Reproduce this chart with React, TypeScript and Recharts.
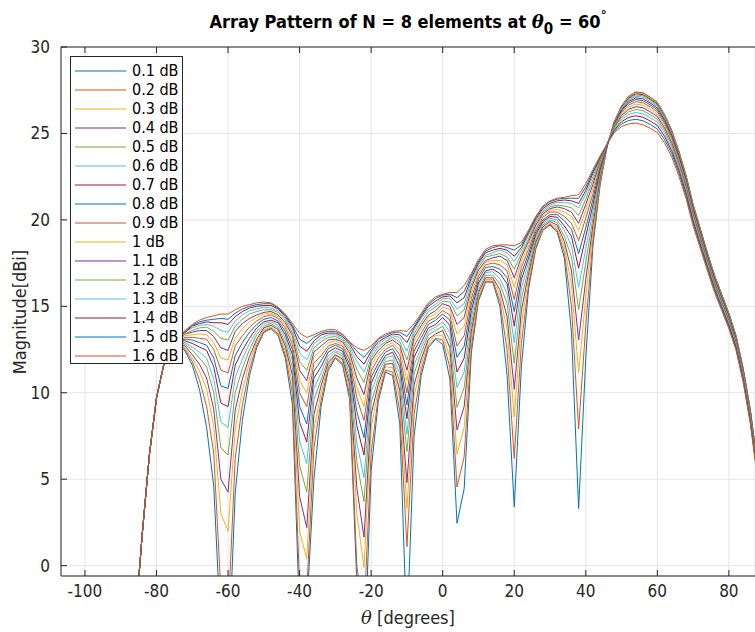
import React from "react";
import { CartesianGrid, Label, Legend, Line, LineChart, ReferenceLine, XAxis, YAxis } from "recharts";

// scan angle grid (degrees)
const theta = [
    -88, -86, -84, -82, -80, -78, -76, -74, -72, -70, -68, -66, -64, -62, -60, -58, -56, -54, -52, -50,
    -48, -46, -44, -42, -40, -38, -36, -34, -32, -30, -28, -26, -24, -22, -20, -18, -16, -14, -12, -10,
    -8, -6, -4, -2, 0, 2, 4, 6, 8, 10, 12, 14, 16, 18, 20, 22, 24, 26, 28, 30,
    32, 34, 36, 38, 40, 42, 44, 46, 48, 50, 52, 54, 56, 58, 60, 62, 64, 66, 68, 70,
    72, 74, 76, 78, 80, 82, 84, 86, 88,
];

// magnitude [dBi], one array per error level
const db01 = [
    -9, -3.5, 1.8, 6.4, 9.7, 11.6, 12.6,
    12.9, 12.4, 11.6, 10.2, 8.0, 4.6, -4,
    -6, 4.2, 8.4, 11.0, 12.6, 13.5, 13.7,
    13.3, 12.0, 9.3, -3, -2.5, 5.0, 9.2,
    11.3, 12.0, 11.6, 9.6, -1.0, -6, 5.5,
    9.5, 11.2, 11.0, 8.2, -4, 7.5, 11.0,
    12.6, 13.1, 12.8, 10.8, 2.45, 4.45, 12.3,
    15.3, 16.4, 16.4, 15.0, 11.0, 3.4, 11.5,
    16.0, 18.3, 19.4, 19.7, 19.3, 17.8, 13.5,
    3.3, 12.0, 18.5, 22.0, 24.3, 25.7, 26.6,
    27.15, 27.4, 27.35, 27.1, 26.8, 26.1, 25.2,
    24.0, 22.6, 20.9, 19.5, 18.1, 16.8, 15.7,
    14.6, 13.3, 11.4, 9.0, 5.8,
];
const db02 = [
    -9, -3.5, 1.8, 6.4, 9.7, 11.6, 12.6,
    12.9, 12.5, 11.8, 10.75, 9.2, 6.5, -1.5,
    -3, 6.2, 9.3, 11.35, 12.75, 13.55, 13.75,
    13.4, 12.2, 9.95, -1.2, -1.5, 6.8, 9.55,
    11.45, 12.05, 11.7, 9.85, 0.0, -3, 6.5,
    9.8, 11.3, 11.2, 8.95, 1.1, 8.75, 11.3,
    12.75, 13.15, 13.05, 11.45, 4.55, 6.3, 12.65,
    15.45, 16.45, 16.45, 15.3, 12.45, 6.2, 12.85,
    16.25, 18.4, 19.45, 19.75, 19.4, 18.1, 15.0,
    7.9, 13.9, 18.85, 22.15, 24.3, 25.69, 26.59,
    27.13, 27.38, 27.33, 27.08, 26.78, 26.08, 25.18,
    23.98, 22.58, 20.89, 19.49, 18.09, 16.79, 15.69,
    14.59, 13.29, 11.39, 8.99, 5.79,
];
const db03 = [
    -9, -3.5, 1.8, 6.4, 9.7, 11.6, 12.6,
    12.9, 12.6, 12.0, 11.25, 10.2, 8.05, 3.0,
    2.0, 7.9, 10.15, 11.75, 12.95, 13.65, 13.8,
    13.5, 12.45, 10.55, 2.0, 0.4, 7.9, 10.0,
    11.6, 12.15, 11.85, 10.2, 3.0, -0.1, 8.0,
    10.15, 11.5, 11.45, 9.65, 3.3, 9.8, 11.65,
    12.95, 13.3, 13.3, 12.1, 6.45, 8.0, 13.15,
    15.6, 16.55, 16.55, 15.65, 13.65, 8.6, 14.0,
    16.6, 18.55, 19.5, 19.8, 19.55, 18.45, 16.25,
    11.15, 15.55, 19.3, 22.3, 24.3, 25.68, 26.56,
    27.1, 27.34, 27.29, 27.04, 26.75, 26.05, 25.15,
    23.96, 22.56, 20.86, 19.46, 18.07, 16.77, 15.67,
    14.57, 13.27, 11.38, 8.98, 5.78,
];
const db04 = [
    -9, -3.5, 1.8, 6.4, 9.7, 11.6, 12.6,
    12.9, 12.7, 12.2, 11.65, 10.85, 9.05, 5.0,
    4.25, 9.0, 10.8, 12.1, 13.1, 13.75, 13.9,
    13.65, 12.7, 11.0, 4.0, 2.2, 8.75, 10.4,
    11.75, 12.2, 11.95, 10.5, 4.5, 1.65, 8.75,
    10.5, 11.65, 11.7, 10.15, 4.8, 10.45, 11.95,
    13.1, 13.4, 13.6, 12.6, 7.85, 9.2, 13.55,
    15.8, 16.65, 16.65, 15.95, 14.4, 10.2, 14.75,
    16.9, 18.7, 19.6, 19.9, 19.7, 18.75, 17.05,
    13.05, 16.55, 19.7, 22.45, 24.3, 25.66, 26.53,
    27.06, 27.29, 27.24, 26.99, 26.7, 26.0, 25.11,
    23.91, 22.52, 20.83, 19.43, 18.04, 16.74, 15.64,
    14.55, 13.25, 11.35, 8.95, 5.75,
];
const db05 = [
    -9, -3.5, 1.8, 6.4, 9.7, 11.6, 12.6,
    13.0, 12.8, 12.45, 12.0, 11.5, 10.0, 6.8,
    6.4, 10.0, 11.4, 12.5, 13.35, 13.85, 14.0,
    13.75, 12.9, 11.45, 5.8, 4.25, 9.6, 10.75,
    11.95, 12.35, 12.1, 10.8, 6.0, 3.7, 9.45,
    10.8, 11.8, 11.9, 10.65, 6.6, 11.1, 12.3,
    13.35, 13.6, 13.85, 13.05, 9.15, 10.3, 13.95,
    15.95, 16.8, 16.8, 16.3, 15.15, 11.7, 15.45,
    17.2, 18.85, 19.7, 20.0, 19.85, 19.05, 17.85,
    14.8, 17.55, 20.1, 22.6, 24.3, 25.64, 26.49,
    27.0, 27.23, 27.18, 26.93, 26.64, 25.95, 25.05,
    23.86, 22.47, 20.78, 19.39, 18.0, 16.71, 15.61,
    14.52, 13.22, 11.33, 8.93, 5.73,
];
const db06 = [
    -9, -3.5, 1.8, 6.4, 9.7, 11.6, 12.6,
    13.0, 12.9, 12.65, 12.35, 12.0, 10.8, 8.3,
    8.0, 10.9, 11.95, 12.85, 13.55, 14.0, 14.1,
    13.9, 13.15, 11.85, 7.2, 5.9, 10.25, 11.15,
    12.15, 12.45, 12.25, 11.1, 7.1, 5.1, 10.05,
    11.15, 12.0, 12.15, 11.1, 7.6, 11.6, 12.6,
    13.55, 13.8, 14.1, 13.5, 10.3, 11.2, 14.35,
    16.2, 16.95, 17.0, 16.6, 15.75, 12.9, 16.05,
    17.55, 19.0, 19.8, 20.1, 20.0, 19.4, 18.5,
    16.1, 18.35, 20.5, 22.75, 24.3, 25.61, 26.44,
    26.93, 27.15, 27.1, 26.85, 26.56, 25.87, 24.99,
    23.8, 22.42, 20.73, 19.34, 17.96, 16.66, 15.57,
    14.48, 13.18, 11.29, 8.89, 5.69,
];
const db07 = [
    -9, -3.5, 1.8, 6.4, 9.7, 11.6, 12.6,
    13.0, 13.0, 12.85, 12.65, 12.45, 11.5, 9.4,
    9.2, 11.6, 12.45, 13.15, 13.75, 14.1, 14.2,
    14.05, 13.35, 12.2, 8.3, 7.15, 10.85, 11.5,
    12.35, 12.6, 12.4, 11.4, 8.1, 6.4, 10.55,
    11.45, 12.15, 12.35, 11.5, 8.5, 12.05, 12.9,
    13.75, 13.95, 14.35, 13.9, 11.2, 12.0, 14.75,
    16.35, 17.05, 17.15, 16.9, 16.3, 13.85, 16.55,
    17.8, 19.15, 19.9, 20.2, 20.15, 19.65, 19.05,
    17.2, 19.05, 20.85, 22.9, 24.3, 25.58, 26.37,
    26.85, 27.06, 27.0, 26.76, 26.47, 25.79, 24.91,
    23.73, 22.35, 20.67, 19.28, 17.9, 16.61, 15.52,
    14.43, 13.14, 11.25, 8.85, 5.65,
];
const db08 = [
    -9, -3.5, 1.8, 6.4, 9.7, 11.6, 12.6,
    13.0, 13.1, 13.05, 12.9, 12.75, 12.0, 10.4,
    10.25, 12.15, 12.9, 13.5, 13.95, 14.25, 14.35,
    14.15, 13.55, 12.5, 9.2, 8.2, 11.25, 11.85,
    12.55, 12.75, 12.55, 11.65, 8.9, 7.4, 10.9,
    11.7, 12.35, 12.55, 11.85, 9.3, 12.4, 13.2,
    13.95, 14.2, 14.55, 14.2, 12.05, 12.7, 15.1,
    16.55, 17.25, 17.3, 17.15, 16.65, 14.7, 16.9,
    18.05, 19.3, 20.0, 20.3, 20.3, 19.95, 19.45,
    18.05, 19.55, 21.2, 23.05, 24.3, 25.54, 26.3,
    26.76, 26.96, 26.89, 26.66, 26.37, 25.69, 24.82,
    23.64, 22.27, 20.59, 19.22, 17.84, 16.55, 15.47,
    14.38, 13.09, 11.2, 8.8, 5.6,
];
const db09 = [
    -9, -3.5, 1.8, 6.4, 9.7, 11.6, 12.6,
    13.0, 13.2, 13.2, 13.15, 13.1, 12.5, 11.3,
    11.15, 12.7, 13.3, 13.8, 14.15, 14.4, 14.5,
    14.3, 13.75, 12.8, 10.0, 9.2, 11.7, 12.15,
    12.7, 12.85, 12.7, 11.9, 9.7, 8.4, 11.25,
    12.0, 12.5, 12.75, 12.2, 10.0, 12.7, 13.45,
    14.15, 14.35, 14.75, 14.5, 12.7, 13.3, 15.45,
    16.75, 17.4, 17.5, 17.4, 17.05, 15.4, 17.25,
    18.3, 19.45, 20.15, 20.45, 20.45, 20.2, 19.8,
    18.8, 20.1, 21.5, 23.15, 24.4, 25.5, 26.22,
    26.65, 26.84, 26.77, 26.54, 26.25, 25.58, 24.71,
    23.55, 22.18, 20.51, 19.14, 17.77, 16.49, 15.4,
    14.32, 13.03, 11.15, 8.75, 5.55,
];
const db10 = [
    -9, -3.5, 1.8, 6.4, 9.7, 11.6, 12.6,
    13.0, 13.3, 13.35, 13.4, 13.35, 12.9, 12.0,
    11.9, 13.15, 13.7, 14.1, 14.35, 14.55, 14.6,
    14.4, 13.9, 13.05, 10.7, 10.0, 12.05, 12.45,
    12.9, 13.0, 12.8, 12.1, 10.3, 9.2, 11.6,
    12.25, 12.7, 12.9, 12.5, 10.7, 13.0, 13.7,
    14.35, 14.55, 14.95, 14.8, 13.4, 13.85, 15.75,
    16.9, 17.55, 17.65, 17.65, 17.4, 16.1, 17.6,
    18.55, 19.6, 20.25, 20.55, 20.6, 20.45, 20.2,
    19.4, 20.55, 21.8, 23.3, 24.4, 25.45, 26.13,
    26.53, 26.7, 26.63, 26.4, 26.12, 25.46, 24.6,
    23.44, 22.08, 20.42, 19.05, 17.69, 16.41, 15.33,
    14.25, 12.97, 11.09, 8.69, 5.49,
];
const db11 = [
    -9, -3.5, 1.8, 6.4, 9.7, 11.6, 12.6,
    13.0, 13.4, 13.5, 13.6, 13.6, 13.25, 12.6,
    12.45, 13.55, 14.0, 14.3, 14.5, 14.65, 14.7,
    14.5, 14.05, 13.3, 11.3, 10.7, 12.35, 12.7,
    13.05, 13.1, 12.95, 12.3, 10.85, 9.9, 11.85,
    12.45, 12.85, 13.05, 12.75, 11.3, 13.2, 13.9,
    14.5, 14.75, 15.15, 15.0, 13.95, 14.35, 16.05,
    17.1, 17.65, 17.8, 17.9, 17.65, 16.65, 17.85,
    18.75, 19.7, 20.35, 20.65, 20.75, 20.65, 20.45,
    19.8, 20.9, 22.05, 23.4, 24.4, 25.39, 26.04,
    26.4, 26.55, 26.48, 26.25, 25.98, 25.32, 24.47,
    23.32, 21.96, 20.31, 18.96, 17.61, 16.33, 15.25,
    14.18, 12.9, 11.02, 8.62, 5.42,
];
const db12 = [
    -9, -3.5, 1.8, 6.4, 9.7, 11.6, 12.6,
    13.0, 13.4, 13.6, 13.75, 13.8, 13.55, 13.15,
    13.05, 13.85, 14.25, 14.55, 14.7, 14.8, 14.8,
    14.65, 14.2, 13.45, 11.8, 11.3, 12.6, 12.95,
    13.2, 13.25, 13.05, 12.5, 11.35, 10.6, 12.05,
    12.65, 12.95, 13.2, 12.95, 11.9, 13.4, 14.1,
    14.7, 14.95, 15.3, 15.25, 14.45, 14.8, 16.25,
    17.25, 17.85, 17.95, 18.05, 17.85, 17.15, 18.05,
    18.9, 19.85, 20.45, 20.75, 20.85, 20.8, 20.7,
    20.25, 21.2, 22.3, 23.45, 24.4, 25.34, 25.93,
    26.25, 26.39, 26.31, 26.09, 25.82, 25.17, 24.33,
    23.19, 21.84, 20.2, 18.86, 17.51, 16.24, 15.17,
    14.1, 12.82, 10.95, 8.55, 5.35,
];
const db13 = [
    -9, -3.5, 1.8, 6.4, 9.7, 11.6, 12.6,
    13.1, 13.5, 13.75, 13.9, 13.95, 13.85, 13.6,
    13.5, 14.15, 14.5, 14.75, 14.85, 14.95, 14.9,
    14.75, 14.3, 13.65, 12.3, 11.9, 12.85, 13.15,
    13.35, 13.35, 13.15, 12.65, 11.8, 11.2, 12.25,
    12.8, 13.1, 13.3, 13.2, 12.4, 13.6, 14.3,
    14.85, 15.1, 15.45, 15.45, 14.85, 15.15, 16.5,
    17.4, 17.95, 18.1, 18.25, 18.1, 17.6, 18.25,
    19.1, 19.95, 20.55, 20.85, 21.0, 21.0, 20.95,
    20.7, 21.5, 22.5, 23.55, 24.4, 25.27, 25.81,
    26.1, 26.21, 26.13, 25.91, 25.65, 25.01, 24.18,
    23.04, 21.71, 20.08, 18.74, 17.41, 16.14, 15.07,
    14.01, 12.74, 10.87, 8.47, 5.27,
];
const db14 = [
    -9, -3.5, 1.8, 6.4, 9.7, 11.6, 12.6,
    13.1, 13.5, 13.85, 14.0, 14.1, 14.05, 14.05,
    13.95, 14.4, 14.7, 14.9, 15.0, 15.05, 15.05,
    14.85, 14.4, 13.8, 12.7, 12.4, 13.0, 13.35,
    13.45, 13.45, 13.25, 12.8, 12.1, 11.65, 12.4,
    12.95, 13.2, 13.4, 13.35, 12.9, 13.75, 14.4,
    15.0, 15.3, 15.55, 15.6, 15.2, 15.5, 16.65,
    17.5, 18.1, 18.25, 18.35, 18.25, 17.9, 18.4,
    19.25, 20.05, 20.65, 20.95, 21.1, 21.15, 21.1,
    20.95, 21.7, 22.7, 23.6, 24.4, 25.2, 25.68,
    25.93, 26.02, 25.94, 25.72, 25.46, 24.84, 24.01,
    22.89, 21.57, 19.94, 18.62, 17.3, 16.04, 14.97,
    13.91, 12.65, 10.79, 8.39, 5.19,
];
const db15 = [
    -9, -3.5, 1.8, 6.4, 9.7, 11.6, 12.6,
    13.1, 13.6, 13.9, 14.1, 14.2, 14.25, 14.3,
    14.25, 14.6, 14.85, 15.0, 15.1, 15.15, 15.15,
    14.9, 14.5, 13.9, 13.1, 12.85, 13.2, 13.45,
    13.55, 13.55, 13.35, 12.9, 12.4, 12.05, 12.55,
    13.1, 13.3, 13.5, 13.5, 13.25, 13.85, 14.5,
    15.1, 15.45, 15.65, 15.7, 15.5, 15.85, 16.8,
    17.6, 18.2, 18.4, 18.5, 18.4, 18.25, 18.55,
    19.35, 20.15, 20.75, 21.05, 21.2, 21.25, 21.25,
    21.25, 21.9, 22.8, 23.65, 24.4, 25.13, 25.55,
    25.75, 25.82, 25.73, 25.52, 25.26, 24.65, 23.84,
    22.73, 21.42, 19.8, 18.49, 17.18, 15.92, 14.87,
    13.81, 12.55, 10.7, 8.3, 5.1,
];
const db16 = [
    -9, -3.5, 1.8, 6.4, 9.7, 11.6, 12.6,
    13.1, 13.6, 13.95, 14.2, 14.35, 14.45, 14.55,
    14.55, 14.8, 15.0, 15.1, 15.2, 15.25, 15.2,
    14.95, 14.55, 14.0, 13.45, 13.2, 13.35, 13.55,
    13.65, 13.65, 13.4, 12.95, 12.6, 12.45, 12.7,
    13.15, 13.4, 13.55, 13.6, 13.55, 14.0, 14.6,
    15.2, 15.55, 15.7, 15.8, 15.8, 16.2, 16.9,
    17.7, 18.3, 18.5, 18.55, 18.55, 18.5, 18.7,
    19.4, 20.2, 20.8, 21.1, 21.25, 21.3, 21.4,
    21.45, 22.1, 22.9, 23.7, 24.4, 25.05, 25.4,
    25.55, 25.6, 25.5, 25.3, 25.05, 24.45, 23.65,
    22.55, 21.25, 19.65, 18.35, 17.05, 15.8, 14.75,
    13.7, 12.45, 10.6, 8.2, 5.0,
];

const seriesNames = [
    "0.1 dB", "0.2 dB", "0.3 dB", "0.4 dB", "0.5 dB", "0.6 dB", "0.7 dB", "0.8 dB",
    "0.9 dB", "1 dB", "1.1 dB", "1.2 dB", "1.3 dB", "1.4 dB", "1.5 dB", "1.6 dB",
];
const seriesValues = [db01, db02, db03, db04, db05, db06, db07, db08, db09, db10, db11, db12, db13, db14, db15, db16];

const xTicks = [-100, -80, -60, -40, -20, 0, 20, 40, 60, 80];
const yTicks = [0, 5, 10, 15, 20, 25, 30];

// matlab default colour order
const palette = ["#0072BD", "#D95319", "#EDB120", "#7E2F8E", "#77AC30", "#4DBEEE", "#A2142F"];

const data = theta.map((t, i) => {
    const row: Record<string, number> = { theta: t };
    seriesValues.forEach((vals, k) => {
        row["s" + k] = vals[i];
    });
    return row;
});

const PLOT_LEFT = 61;
const PLOT_TOP = 47;
const PLOT_BOTTOM = 576;
const AXIS_COLOR = "#262626";
const FONT = '"Liberation Sans Narrow", "DejaVu Sans Condensed", "Liberation Sans", Arial, sans-serif';

const XTick = (props: any) => {
    const { x, payload } = props;
    return (
        <g>
            <line x1={x} x2={x} y1={PLOT_BOTTOM} y2={PLOT_BOTTOM - 6} stroke={AXIS_COLOR} />
            <line x1={x} x2={x} y1={PLOT_TOP} y2={PLOT_TOP + 6} stroke={AXIS_COLOR} />
            <text x={x} y={597} textAnchor="middle" fill={AXIS_COLOR} fontSize={17} fontFamily={FONT}>
                {payload.value}
            </text>
        </g>
    );
};

const YTick = (props: any) => {
    const { y, payload } = props;
    return (
        <g>
            <line x1={PLOT_LEFT} x2={PLOT_LEFT + 6} y1={y} y2={y} stroke={AXIS_COLOR} />
            <text x={50} y={y} dy={6} textAnchor="end" fill={AXIS_COLOR} fontSize={17} fontFamily={FONT}>
                {payload.value}
            </text>
        </g>
    );
};

const LegendBox = () => (
    <div
        style={{
            border: "1px solid " + AXIS_COLOR,
            background: "#fff",
            width: 113,
            height: 308,
            boxSizing: "border-box",
            paddingTop: 4,
        }}
    >
        {seriesNames.map((name, k) => (
            <div key={name} style={{ display: "flex", alignItems: "center", height: 19 }}>
                <svg width={61} height={19} style={{ display: "block" }}>
                    <line x1={4} x2={55} y1={10} y2={10} stroke={palette[k % 7]} strokeWidth={1} />
                </svg>
                <span style={{ fontFamily: FONT, fontSize: 16, color: "#000", lineHeight: "19px" }}>{name}</span>
            </div>
        ))}
    </div>
);

export default function App() {
    return (
        <div style={{ position: "absolute", left: 0, top: 0, width: 755, height: 632, background: "#fff" }}>
            <div
                style={{
                    position: "absolute",
                    left: PLOT_LEFT,
                    width: 694,
                    top: 13,
                    textAlign: "center",
                    fontFamily: FONT,
                    fontWeight: "bold",
                    fontSize: 18,
                    lineHeight: "18px",
                    color: "#000",
                    zIndex: 2,
                }}
            >
                Array Pattern of N = 8 elements at{" "}
                <span style={{ fontStyle: "italic", fontFamily: '"DejaVu Serif", serif' }}>θ</span>
                <span style={{ position: "relative", top: 6, fontSize: 15 }}>0</span> = 60
                <span style={{ position: "relative", top: -9, fontSize: 13 }}>°</span>
            </div>
            <LineChart width={755} height={632} data={data} margin={{ top: PLOT_TOP, right: 0, bottom: 0, left: 0 }}>
                <CartesianGrid stroke="#e5e5e5" strokeWidth={1} />
                <XAxis
                    dataKey="theta"
                    type="number"
                    domain={[-106.7, 87.3]}
                    ticks={xTicks}
                    allowDataOverflow
                    height={56}
                    tickLine={false}
                    stroke={AXIS_COLOR}
                    tick={<XTick />}
                    interval={0}
                >
                    <Label
                        content={() => (
                            <text x={408} y={624} textAnchor="middle" fill={AXIS_COLOR} fontSize={18} fontFamily={FONT}>
                                <tspan fontStyle="italic" fontFamily='"DejaVu Serif", serif'>θ</tspan> [degrees]
                            </text>
                        )}
                    />
                </XAxis>
                <YAxis
                    type="number"
                    domain={[-0.6, 30]}
                    ticks={yTicks}
                    allowDataOverflow
                    width={PLOT_LEFT}
                    tickLine={false}
                    stroke={AXIS_COLOR}
                    tick={<YTick />}
                    interval={0}
                >
                    <Label
                        content={() => (
                            <text
                                transform="rotate(-90)"
                                x={-312}
                                y={26}
                                textAnchor="middle"
                                fill={AXIS_COLOR}
                                fontSize={18}
                                fontFamily={FONT}
                            >
                                Magnitude[dBi]
                            </text>
                        )}
                    />
                </YAxis>
                <ReferenceLine y={30} stroke={AXIS_COLOR} strokeWidth={1} />
                {seriesNames.map((name, k) => (
                    <Line
                        key={name}
                        type="linear"
                        dataKey={"s" + k}
                        name={name}
                        stroke={palette[k % 7]}
                        strokeWidth={1}
                        dot={false}
                        activeDot={false}
                        isAnimationActive={false}
                    />
                ))}
                <Legend
                    layout="vertical"
                    align="center"
                    verticalAlign="middle"
                    wrapperStyle={{ left: 70, top: 56, width: 113, height: 308 }}
                    content={() => <LegendBox />}
                />
            </LineChart>
        </div>
    );
}
